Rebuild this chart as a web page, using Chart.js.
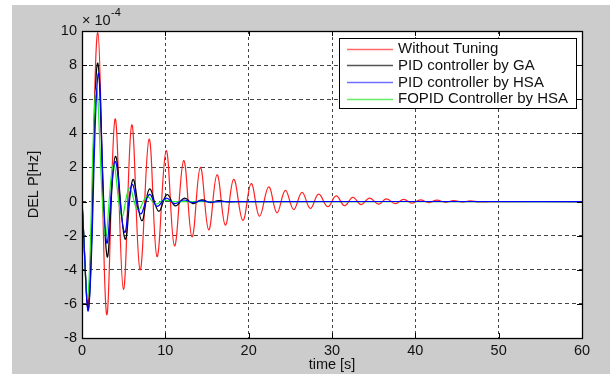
<!DOCTYPE html>
<html>
<head>
<meta charset="utf-8">
<script src="https://cdn.jsdelivr.net/npm/chart.js@4/dist/chart.umd.min.js"></script>
<style>
html,body{margin:0;padding:0;background:#fff;}
#wrap{width:610px;height:374px;position:relative;}
</style>
</head>
<body>
<div id="wrap"><canvas id="c" width="610" height="374"></canvas></div>
<script>
// ---- data (values in units of 1e-4) ----
const seriesLabels = ['Without Tuning','PID controller by GA','PID controller by HSA','FOPID Controller by HSA'];
const xTicks = [0,10,20,30,40,50,60];
const yTicks = [-8,-6,-4,-2,0,2,4,6,8,10];

const tRed = [0,0.75,1.9,2.95,3.97,4.97,5.97,6.97,8.05,9.0,10.1,11.1,12.2,13.2,14.2,15.2,16.2,17.2,18.2,19.3,20.3,21.3,22.4,23.4,24.4,25.4,26.4,27.4,28.4,29.5,30.5,31.5,32.5,33.5,34.5,35.6,36.5,37.6,38.6,39.6,40.6,41.6,42.6,43.6,44.6,45.6,46.6,47.6,50,60];
const vRed = [0,-6.0,9.9,-6.6,4.85,-5.15,4.5,-4.0,3.66,-3.23,2.98,-2.6,2.4,-2.07,2.0,-1.66,1.57,-1.38,1.3,-1.1,1.05,-0.86,0.86,-0.66,0.66,-0.47,0.54,-0.4,0.43,-0.3,0.33,-0.24,0.25,-0.18,0.2,-0.15,0.16,-0.12,0.13,-0.09,0.1,-0.06,0.08,-0.05,0.06,-0.03,0.04,-0.02,0,0];

const tBlack = [0,0.8,1.85,3.0,4.0,5.17,6.1,7.17,8.1,9.2,10.2,11.2,12.3,13.3,14.4,15.4,16.4,17.5,19,60];
const vBlack = [0,-6.2,8.1,-3.2,2.65,-2.2,1.29,-1.12,0.74,-0.57,0.41,-0.25,0.2,-0.12,0.1,-0.06,0.05,-0.02,0,0];

const tBlue = [0,0.8,1.95,2.95,3.97,5.1,6.0,7.0,8.1,9.0,10.1,11.1,12.2,13.3,14.3,15.3,16.5,60];
const vBlue = [0,-6.3,7.5,-2.4,2.35,-1.8,1.0,-0.72,0.42,-0.28,0.2,-0.12,0.09,-0.06,0.05,-0.03,0,0];

const tGreen = [0,0.7,1.7,2.8,3.77,4.77,5.7,6.7,7.8,8.8,9.8,11,60];
const vGreen = [0,-5.6,6.6,-2.0,2.16,-0.86,0.8,-0.5,0.3,-0.15,0.08,0,0];

const colors = ['#ff2020','#000000','#0000ff','#22ee22'];
const legendColors = ['#ff6a6a','#555555','#7070ff','#66ee66'];

function pts(t,v){ return t.map((x,i)=>({x:x,y:v[i]})); }

Chart.defaults.font.family = '"Liberation Sans", Arial, Helvetica, sans-serif';

const FONT = 14.5;

const decor = {
  id:'decor',
  beforeDraw(chart){
    const ctx = chart.ctx, a = chart.chartArea;
    ctx.save();
    ctx.fillStyle = '#ffffff';
    ctx.fillRect(0,0,chart.width,chart.height);
    ctx.fillStyle = '#cccccc';
    ctx.fillRect(12,5,chart.width-12,chart.height-5);
    ctx.fillStyle = '#ffffff';
    ctx.fillRect(a.left,a.top,a.right-a.left,a.bottom-a.top);
    ctx.restore();
  },
  afterDraw(chart){
    const ctx = chart.ctx, a = chart.chartArea;
    const xs = chart.scales.x, ys = chart.scales.y;
    ctx.save();
    // tick marks inside the frame
    ctx.strokeStyle = '#000';
    ctx.lineWidth = 1;
    ctx.beginPath();
    xTicks.forEach(v=>{
      const px = Math.round(xs.getPixelForValue(v))+0.5;
      ctx.moveTo(px,a.bottom); ctx.lineTo(px,a.bottom-5);
      ctx.moveTo(px,a.top); ctx.lineTo(px,a.top+5);
    });
    yTicks.forEach(v=>{
      const py = Math.round(ys.getPixelForValue(v))+0.5;
      ctx.moveTo(a.left,py); ctx.lineTo(a.left+5,py);
      ctx.moveTo(a.right,py); ctx.lineTo(a.right-5,py);
    });
    ctx.stroke();
    // frame
    ctx.lineWidth = 1.3;
    ctx.strokeRect(Math.round(a.left)+0.5,Math.round(a.top)+0.5,Math.round(a.right-a.left),Math.round(a.bottom-a.top));
    // exponent label
    ctx.fillStyle = '#111';
    ctx.textBaseline = 'alphabetic';
    ctx.textAlign = 'left';
    ctx.font = FONT+'px "Liberation Sans", Arial, sans-serif';
    ctx.fillText('\u00d7 10', a.left, 25);
    ctx.font = '11px "Liberation Sans", Arial, sans-serif';
    ctx.fillText('-4', a.left+29, 16);
    // legend
    const lx = 339.5, ly = 38.5, lw = 237, lh = 70;
    ctx.fillStyle = '#fff';
    ctx.fillRect(lx,ly,lw,lh);
    ctx.lineWidth = 1;
    ctx.strokeStyle = '#000';
    ctx.strokeRect(lx,ly,lw,lh);
    ctx.font = '15px "Liberation Sans", Arial, sans-serif';
    ctx.textBaseline = 'middle';
    chart.data.datasets.forEach((ds,i)=>{
      const y = 48.5 + i*16.7;
      ctx.strokeStyle = legendColors[i];
      ctx.lineWidth = 1.3;
      ctx.beginPath();
      ctx.moveTo(347,Math.round(y)+0.5); ctx.lineTo(393,Math.round(y)+0.5);
      ctx.stroke();
      ctx.fillStyle = '#111';
      ctx.fillText(ds.label, 398, y+0.5);
    });
    ctx.restore();
  }
};

const orders = [3,2,0,1];
const datasets = [[tRed,vRed],[tBlack,vBlack],[tBlue,vBlue],[tGreen,vGreen]].map((p,i)=>({
  label: seriesLabels[i],
  data: pts(p[0],p[1]),
  borderColor: colors[i],
  borderWidth: 1.2,
  pointRadius: 0,
  tension: 0.4,
  fill: false,
  order: orders[i]
}));

new Chart(document.getElementById('c'), {
  type:'line',
  data:{datasets:datasets},
  plugins:[decor],
  options:{
    responsive:false,
    animation:false,
    devicePixelRatio:1,
    layout:{padding:{left:0,right:28,top:31,bottom:0}},
    plugins:{legend:{display:false},tooltip:{enabled:false}},
    scales:{
      x:{
        type:'linear', min:0, max:60,
        afterFit(s){ s.height = 36; },
        afterBuildTicks(s){ s.ticks = xTicks.map(v=>({value:v})); },
        ticks:{color:'#111', font:{size:FONT}, padding:4, maxRotation:0},
        grid:{color:'#444', lineWidth:1, drawTicks:false},
        border:{display:false, dash:[3,3]},
        title:{display:true, text:'time [s]', color:'#111', font:{size:FONT}, padding:{top:0,bottom:0}}
      },
      y:{
        type:'linear', min:-8, max:10,
        afterFit(s){ s.width = 82; },
        afterBuildTicks(s){ s.ticks = yTicks.map(v=>({value:v})); },
        ticks:{color:'#111', font:{size:FONT}, padding:5},
        grid:{color:'#444', lineWidth:1, drawTicks:false},
        border:{display:false, dash:[4,3]},
        title:{display:true, text:'DEL P[Hz]', color:'#111', font:{size:FONT}, padding:{top:25,bottom:25}}
      }
    }
  }
});
</script>
</body>
</html>
